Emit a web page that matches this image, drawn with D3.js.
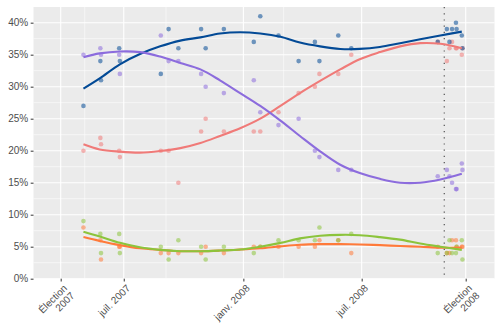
<!DOCTYPE html>
<html><head><meta charset="utf-8">
<script src="https://cdn.jsdelivr.net/npm/d3@7"></script>
<style>
html,body{margin:0;padding:0;background:#fff;}
svg{display:block;font-family:"Liberation Sans",Arial,sans-serif;}
</style></head>
<body>
<svg id="c" width="500" height="334"></svg>
<script>
// ---------- data ----------
const pollDates = ["2007-04-30","2007-05-26","2007-05-27","2007-06-24","2007-06-25","2007-08-27","2007-09-08","2007-09-23","2007-10-28","2007-11-04","2007-12-02","2008-01-17","2008-01-27","2008-02-24","2008-03-26","2008-04-20","2008-04-27","2008-05-26","2008-06-15","2008-10-26","2008-11-09","2008-11-13","2008-11-17","2008-11-23","2008-11-24","2008-12-02","2008-12-03"];
const plq = [27,34,31,36,34,32,39,36,39,36,39,37,41,38,34,37,34,38,36,37,39,37,39,40,39,38,36];
const adq = [35,36,35,35,32,38,34,34,32,30,29,31,26,24,25,20,19,17,17,16,17,16,15,14,14,18,17];
const pq  = [20,22,21,20,19,20,20,15,23,25,23,23,23,26,29,30,32,32,35,37,34,36,37,36,36,35,36];
const pv  = [9,7,4,7,4,5,3,6,5,3,5,4,5,6,6,6,8,6,7,4,4,6,4,4,5,6,3];
const qs  = [8,6,3,5,5,4,4,4,4,5,4,5,5,5,5,5,6,6,4,5,4,4,6,6,5,5,5];

// smoothed trend curves
const trendDates = ["2007-04-30","2007-05-25","2007-06-25","2007-07-26","2007-08-26","2007-09-26","2007-10-27","2007-11-26","2007-12-27","2008-01-27","2008-02-27","2008-03-28","2008-04-28","2008-05-29","2008-06-28","2008-07-29","2008-08-29","2008-09-29","2008-10-30","2008-12-02"];
const plqTrend = [29.7,31.3,33.5,35.1,36.3,37.2,37.7,38.3,38.5,38.3,37.8,36.9,36.3,35.9,35.9,36.2,36.8,37.4,38.0,38.6];
const adqTrend = [34.6,35.2,35.5,35.4,34.7,33.7,32.7,31.0,29.0,27.0,24.7,22.3,19.9,17.8,16.5,15.6,15.0,15.0,15.5,16.4];
const pqTrend  = [21.0,20.2,19.85,19.7,19.95,20.4,21.2,22.3,23.5,25.0,27.0,29.0,30.9,32.7,34.3,35.4,36.3,36.8,36.7,36.0];
const pvTrend  = [7.35,6.6,5.6,4.9,4.5,4.3,4.3,4.4,4.55,5.0,5.6,6.3,6.7,6.85,6.8,6.5,6.1,5.5,5.0,4.5];
const qsTrend  = [6.5,5.9,5.25,4.75,4.5,4.3,4.3,4.4,4.55,4.75,5.05,5.3,5.4,5.4,5.35,5.25,5.1,5.0,4.85,4.85];

const xBreaks = ["2007-03-26","2007-07-01","2008-01-01","2008-07-01","2008-12-08"];
const xLabels = [["Élection","2007"],["juil. 2007"],["janv. 2008"],["juil. 2008"],["Élection","2008"]];
const xMinorBreaks = ["2007-05-02","2007-09-04","2008-03-03"];
const yBreaks = [0,5,10,15,20,25,30,35,40];
const callDate = "2008-11-05";

// ---------- layout ----------
const P = {left:33.5, right:494.5, top:7, bottom:278.7};
const parse = d3.timeParse("%Y-%m-%d");
const x = d3.scaleTime().domain([parse("2007-03-26"), parse("2008-12-08")]).range([60.7, 465.7]);
const y = d3.scaleLinear().domain([0, 42.45]).range([P.bottom, P.top]);

const svg = d3.select("#c");
svg.append("rect").attr("x",P.left).attr("y",P.top).attr("width",P.right-P.left).attr("height",P.bottom-P.top).attr("fill","#EBEBEB");

const gGrid = svg.append("g");
const yMinor = d3.range(2.5, 42.5, 5);
gGrid.selectAll(".ymin").data(yMinor).join("line")
  .attr("x1",P.left).attr("x2",P.right).attr("y1",d=>y(d)).attr("y2",d=>y(d))
  .attr("stroke","#fff").attr("stroke-width",0.55);
gGrid.selectAll(".xmin").data(xMinorBreaks.map(parse)).join("line")
  .attr("x1",d=>x(d)).attr("x2",d=>x(d)).attr("y1",P.top).attr("y2",P.bottom)
  .attr("stroke","#fff").attr("stroke-width",0.55);
const xb = xBreaks.map(parse);
gGrid.selectAll(".ymaj").data(yBreaks).join("line")
  .attr("x1",P.left).attr("x2",P.right).attr("y1",d=>y(d)).attr("y2",d=>y(d))
  .attr("stroke","#fff").attr("stroke-width",1.1);
gGrid.selectAll(".xmaj").data(xb).join("line")
  .attr("x1",d=>x(d)).attr("x2",d=>x(d)).attr("y1",P.top).attr("y2",P.bottom)
  .attr("stroke","#fff").attr("stroke-width",1.1);

// election call line
svg.append("line").attr("x1",x(parse(callDate))).attr("x2",x(parse(callDate)))
  .attr("y1",P.top).attr("y2",P.bottom)
  .attr("stroke","#444").attr("stroke-width",1.1).attr("stroke-dasharray","1.2,5");

// ---------- series ----------
const series = [
  {name:"PQ",  vals:pq,  trend:pqTrend,  color:"#F07A78"},
  {name:"QS",  vals:qs,  trend:qsTrend,  color:"#FF7A3A"},
  {name:"PLQ", vals:plq, trend:plqTrend, color:"#034A96"},
  {name:"ADQ", vals:adq, trend:adqTrend, color:"#8C6CDD"},
  {name:"PV",  vals:pv,  trend:pvTrend,  color:"#8CC43C"}
];
const pd = pollDates.map(parse), td = trendDates.map(parse);

const gPts = svg.append("g");
series.forEach(s=>{
  gPts.append("g").selectAll("circle").data(s.vals.map((v,i)=>({d:pd[i],v}))).join("circle")
    .attr("cx",d=>x(d.d)).attr("cy",d=>y(d.v)).attr("r",2.3)
    .attr("fill",s.color).attr("fill-opacity",0.55);
});
const line = d3.line().x(d=>x(d.d)).y(d=>y(d.v)).curve(d3.curveCatmullRom.alpha(0.5));
series.forEach(s=>{
  svg.append("path").datum(s.trend.map((v,i)=>({d:td[i],v})))
    .attr("d",line).attr("fill","none").attr("stroke",s.color).attr("stroke-width",2.1);
});

// ---------- axes ----------
const axY = svg.append("g").attr("transform",`translate(${P.left},0)`)
  .call(d3.axisLeft(y).tickValues(yBreaks).tickFormat(d=>d+"%").tickSize(2.8).tickPadding(2.5));
axY.select(".domain").remove();
axY.selectAll("line").attr("stroke","#333").attr("stroke-width",1);
axY.selectAll("text").attr("fill","#4D4D4D").attr("font-size",10).attr("font-family","Liberation Sans, Arial, sans-serif");

const axX = svg.append("g").attr("transform",`translate(0,${P.bottom})`)
  .call(d3.axisBottom(x).tickValues(xb).tickFormat("").tickSize(2.8));
axX.select(".domain").remove();
axX.selectAll("line").attr("stroke","#333").attr("stroke-width",1);

const gL = svg.append("g");
xb.forEach((d,i)=>{
  const t = gL.append("text")
    .attr("transform",`translate(${x(d)+2},${P.bottom+5}) rotate(-45)`)
    .attr("text-anchor","end").attr("fill","#4D4D4D").attr("font-size",10)
    .attr("font-family","Liberation Sans, Arial, sans-serif");
  xLabels[i].forEach((ln,j)=>{
    t.append("tspan").attr("x",0).attr("dy", j===0 ? "0.72em" : "1.05em").text(ln);
  });
});
</script>
</body></html>
